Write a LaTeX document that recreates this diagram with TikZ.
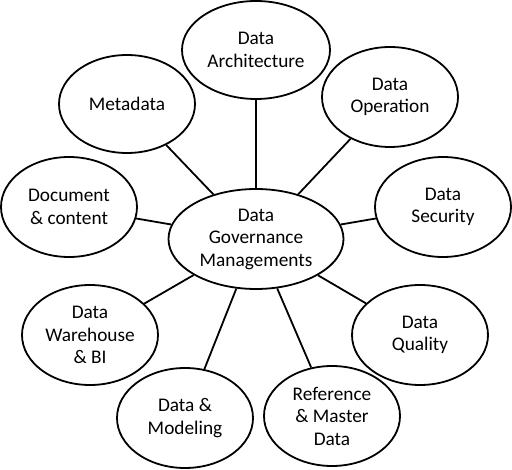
\documentclass[tikz,border=0pt]{standalone}
\usepackage{fontspec}
\setmainfont{Carlito}
\usetikzlibrary{shapes.geometric}
\begin{document}
\begin{tikzpicture}[x=1pt,y=-1pt,
  bubble/.style={ellipse,draw,line width=1.8pt,inner sep=0pt,align=center,
    minimum width=136pt,minimum height=100pt,font=\fontsize{19.3}{22.5}\selectfont},
  link/.style={line width=1.8pt}]
\useasboundingbox (0,0) rectangle (512,470);
\node[bubble,minimum width=175pt,minimum height=100pt] (c) at (256,239) {Data\\Governance\\Managements};
\node[bubble,minimum width=148pt,minimum height=98pt] (arch) at (256,50) {Data\\Architecture};
\node[bubble] (op) at (390,97) {Data\\Operation};
\node[bubble,minimum height=98pt] (meta) at (127,104) {Metadata};
\node[bubble] (doc) at (69,207) {Document\\\& content};
\node[bubble] (sec) at (443,207) {Data\\Security};
\node[bubble] (wh) at (90,335) {Data\\Warehouse\\\& BI};
\node[bubble] (qual) at (420,335) {Data\\Quality};
\node[bubble] (mod) at (185,418) {Data \&\\Modeling};
\node[bubble] (ref) at (332,416) {Reference\\\& Master\\Data};
\foreach \n in {arch,op,meta,doc,sec,wh,qual,mod,ref}
  \draw[link] (c) -- (\n);
\end{tikzpicture}
\end{document}
